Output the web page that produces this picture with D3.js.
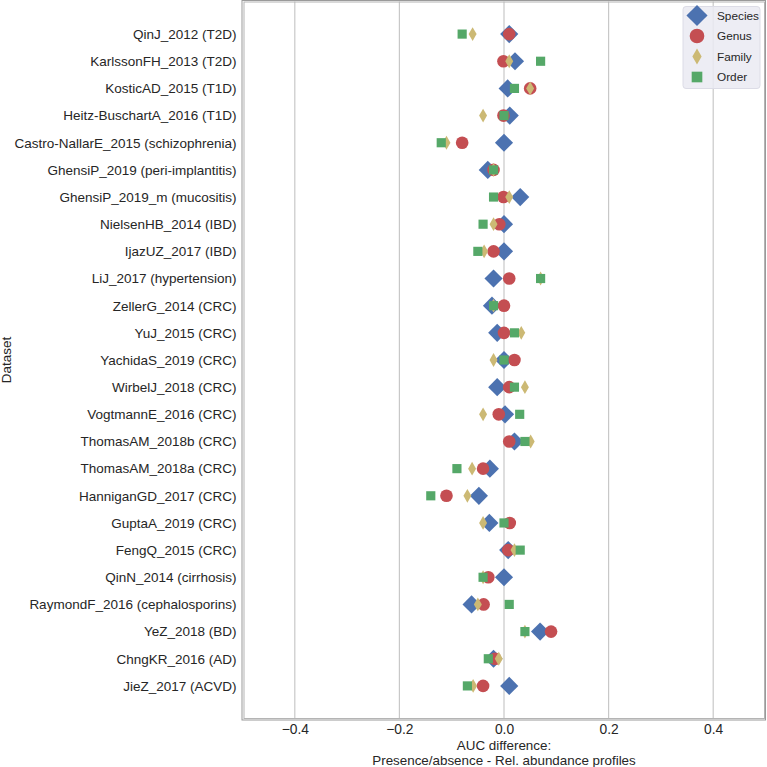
<!DOCTYPE html>
<html><head><meta charset="utf-8">
<script src="https://cdn.jsdelivr.net/npm/d3@7"></script>
<style>body{margin:0;background:#fff;}svg{display:block;font-family:"Liberation Sans",Arial,sans-serif;}</style>
</head><body><svg id="c" width="767" height="767"></svg>
<script>
const datasets = ["QinJ_2012 (T2D)","KarlssonFH_2013 (T2D)","KosticAD_2015 (T1D)","Heitz-BuschartA_2016 (T1D)","Castro-NallarE_2015 (schizophrenia)","GhensiP_2019 (peri-implantitis)","GhensiP_2019_m (mucositis)","NielsenHB_2014 (IBD)","IjazUZ_2017 (IBD)","LiJ_2017 (hypertension)","ZellerG_2014 (CRC)","YuJ_2015 (CRC)","YachidaS_2019 (CRC)","WirbelJ_2018 (CRC)","VogtmannE_2016 (CRC)","ThomasAM_2018b (CRC)","ThomasAM_2018a (CRC)","HanniganGD_2017 (CRC)","GuptaA_2019 (CRC)","FengQ_2015 (CRC)","QinN_2014 (cirrhosis)","RaymondF_2016 (cephalosporins)","YeZ_2018 (BD)","ChngKR_2016 (AD)","JieZ_2017 (ACVD)"];
const species = [0.010,0.021,0.007,0.011,0.000,-0.031,0.031,0.000,0.000,-0.020,-0.023,-0.013,0.000,-0.013,0.002,0.020,-0.027,-0.048,-0.028,0.008,0.000,-0.062,0.069,-0.020,0.010];
const genus   = [0.010,-0.001,0.050,-0.001,-0.080,-0.020,-0.001,-0.009,-0.020,0.010,0.000,0.000,0.020,0.010,-0.010,0.010,-0.040,-0.110,0.011,0.008,-0.030,-0.039,0.090,-0.017,-0.040];
const family  = [-0.060,0.010,0.050,-0.040,-0.110,-0.020,0.010,-0.020,-0.038,0.070,-0.020,0.033,-0.020,0.040,-0.040,0.051,-0.061,-0.070,-0.040,0.020,-0.040,-0.050,0.040,-0.010,-0.059];
const order   = [-0.080,0.070,0.020,0.000,-0.120,-0.020,-0.020,-0.040,-0.050,0.070,-0.020,0.020,0.000,0.020,0.030,0.040,-0.090,-0.140,0.000,0.031,-0.040,0.010,0.040,-0.030,-0.070];
const xTicks = [-0.4,-0.2,0.0,0.2,0.4];
const seriesNames = ["Species","Genus","Family","Order"];

const colors = {Species:"#4C72B0",Genus:"#C44E52",Family:"#CCB974",Order:"#55A868"};
const shapes = {
  Species: {type:d3.symbolSquare,size:165,rot:45},
  Genus: {type:d3.symbolCircle,size:125,rot:0},
  Family: {type:d3.symbolDiamond,size:55,rot:0},
  Order: {type:d3.symbolSquare,size:84,rot:0}
};
const seriesData = {Species:species,Genus:genus,Family:family,Order:order};

const svg = d3.select("#c");
const L=243.5, R=764.5, T=1.5, B=718.5;
const x = d3.scaleLinear().domain([-0.5,0.5]).range([L-1,R+1]);
const y = d3.scaleLinear().domain([-1.2, datasets.length-1+1.2]).range([T,B]);

// gridlines
svg.append("g").selectAll("line").data(xTicks).join("line")
  .attr("x1",d=>x(d)).attr("x2",d=>x(d)).attr("y1",T).attr("y2",B)
  .attr("stroke","#c8c8c8").attr("stroke-width",1.2);

// frame (double line)
svg.append("rect").attr("x",242).attr("y",0.5).attr("width",523.5).attr("height",719.5)
  .attr("fill","none").attr("stroke","#9a9a9a").attr("stroke-width",1);
svg.append("rect").attr("x",244).attr("y",2).attr("width",520.5).attr("height",716.5)
  .attr("fill","none").attr("stroke","#b4b4b4").attr("stroke-width",1);

// x axis
const xAxis = d3.axisBottom(x).tickValues(xTicks).tickSize(0).tickPadding(5)
  .tickFormat(d=>d3.format(".1f")(d).replace("-","\u2212"));
const gx = svg.append("g").attr("transform",`translate(0,${B+1})`).call(xAxis);
gx.select(".domain").remove();
gx.selectAll("text").attr("font-size",13.8).attr("fill","#262626").attr("font-family","'Liberation Sans',Arial,sans-serif");

// y axis
const gy = svg.append("g").attr("transform",`translate(${L-1},0)`)
  .call(d3.axisLeft(y).tickValues(d3.range(datasets.length)).tickFormat(i=>datasets[i]).tickSize(0).tickPadding(6));
gy.select(".domain").remove();
gy.selectAll("text").attr("font-size",13.5).attr("fill","#262626").attr("font-family","'Liberation Sans',Arial,sans-serif");

// axis titles
svg.append("text").attr("x",x(0)).attr("y",750).attr("text-anchor","middle").attr("font-size",13.4).attr("fill","#262626").text("AUC difference:");
svg.append("text").attr("x",x(0)).attr("y",765).attr("text-anchor","middle").attr("font-size",13.4).attr("fill","#262626").text("Presence/absence - Rel. abundance profiles");
svg.append("text").attr("transform",`translate(11,${(T+B)/2}) rotate(-90)`).attr("text-anchor","middle").attr("font-size",13.5).attr("fill","#262626").text("Dataset");

// markers
seriesNames.forEach(name=>{
  const s = shapes[name];
  const sym = d3.symbol().type(s.type).size(s.size);
  svg.append("g").selectAll("path").data(seriesData[name]).join("path")
    .attr("d",sym)
    .attr("transform",(d,i)=>`translate(${x(d)},${y(i)}) rotate(${s.rot})`)
    .attr("fill",colors[name]);
});

// legend
const lg = svg.append("g");
lg.append("rect").attr("x",683).attr("y",6.5).attr("width",77).attr("height",82).attr("rx",3)
  .attr("fill","#eaeaf2").attr("fill-opacity",0.85).attr("stroke","#dcdce6");
seriesNames.forEach((name,i)=>{
  const s = shapes[name];
  const yy = 15.5 + i*20.5;
  lg.append("path").attr("d",d3.symbol().type(s.type).size(s.size*1.35)())
    .attr("transform",`translate(697,${yy}) rotate(${s.rot})`).attr("fill",colors[name]);
  lg.append("text").attr("x",717).attr("y",yy+4).attr("font-size",11.8).attr("fill","#262626").text(name);
});
</script></body></html>
